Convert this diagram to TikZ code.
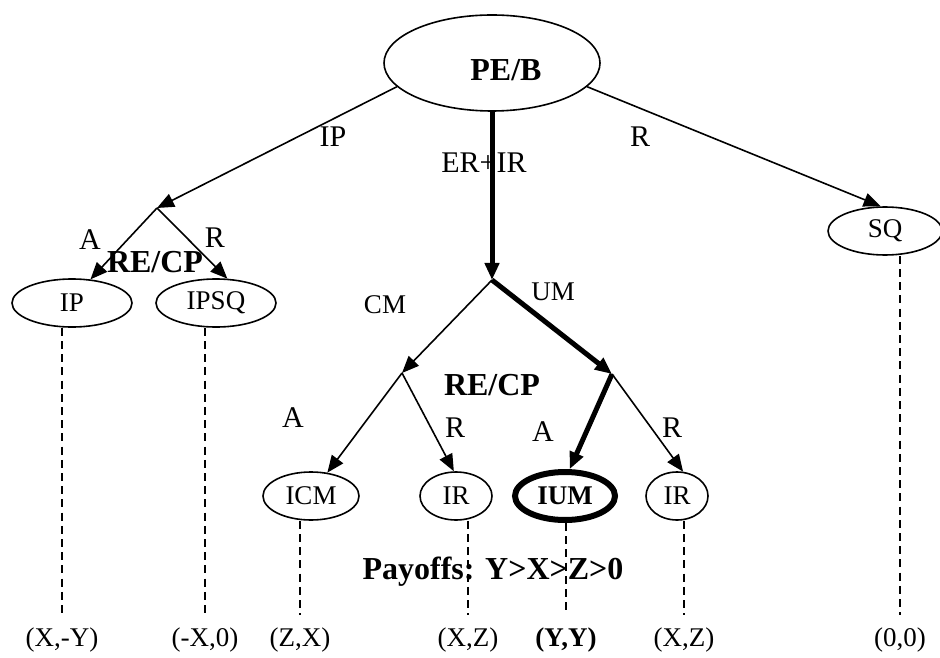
\documentclass[tikz,border=0pt]{standalone}
\usepackage{fontspec}
\setmainfont{Liberation Serif}
\usetikzlibrary{arrows.meta,positioning,shapes.geometric}

\begin{document}
\begin{tikzpicture}[x=0.5pt,y=-0.5pt,
  state/.style={draw, ellipse, line width=0.8pt, inner sep=0pt,
    minimum height=24pt, font=\fontsize{13.5}{15}\selectfont},
  move/.style={-{Triangle[length=8.5pt,width=7pt]}, line width=0.8pt},
  eqmove/.style={move, line width=2.5pt},
  tie/.style={dash pattern=on 4pt off 2.6pt, line width=0.75pt},
  lab/.style={font=\fontsize{15}{17}\selectfont},
  small/.style={font=\fontsize{13.5}{15}\selectfont},
  heavy/.style={font=\fontsize{16}{18}\selectfont\bfseries},
  pay/.style={font=\fontsize{13.5}{15}\selectfont, inner sep=6pt}]
  \useasboundingbox (0,0) rectangle (940,657);

  % players and decision points
  \node[state, minimum width=108pt, minimum height=48pt,
    label={[heavy, xshift=7pt, yshift=-3.5pt]center:PE/B}] (peb) at (492,63) {};
  \coordinate (ch1) at (157,208);
  \coordinate (ch2) at (492,280);
  \coordinate (ch3) at (402,373);
  \coordinate (ch4) at (612,374);

  % outcomes
  \node[state, minimum width=60pt] (ip) at (72,303) {IP};
  \node[state, minimum width=60pt] (ipsq) at (216,303) {IPSQ};
  \node[state, minimum width=57pt] (sq) at (885,231) {SQ};
  \node[state, minimum width=48pt] (icm) at (311,496) {ICM};
  \node[state, minimum width=36pt] (ir1) at (456,496) {IR};
  \node[state, minimum width=50pt, line width=3pt, font=\fontsize{13.5}{15}\selectfont\bfseries]
    (ium) at (565,496) {IUM};
  \node[state, minimum width=31pt] (ir2) at (677,496) {IR};

  % payoffs
  \node[pay] (payip) at (62,640) {(X,-Y)};
  \node[pay] (payipsq) at (205,640) {(-X,0)};
  \node[pay] (payicm) at (300,640) {(Z,X)};
  \node[pay] (payir1) at (468,640) {(X,Z)};
  \node[pay, font=\fontsize{13.5}{15}\selectfont\bfseries] (payium) at (566,640) {(Y,Y)};
  \node[pay] (payir2) at (684,640) {(X,Z)};
  \node[pay] (paysq) at (900,640) {(0,0)};

  % moves
  \draw[move] (peb.194) -- (ch1);
  \draw[eqmove] (peb) -- (ch2);
  \draw[move] (peb.346) -- (sq.100);
  \draw[move] (ch1) -- (ip.52);
  \draw[move] (ch1) -- (ipsq.65);
  \draw[move] (ch2) -- (ch3);
  \draw[eqmove] (ch2) -- (ch4);
  \draw[move] (ch3) -- (icm.55);
  \draw[move] (ch3) -- (ir1.95);
  \draw[eqmove] (ch4) -- (ium.80);
  \draw[move] (ch4) -- (ir2.76);

  % ties to payoffs
  \draw[tie] (payip.north |- ip.south) -- (payip.north);
  \draw[tie] (payipsq.north |- ipsq.south) -- (payipsq.north);
  \draw[tie] (payicm.north |- icm.south) -- (payicm.north);
  \draw[tie] (payir1.north |- ir1.south) -- (payir1.north);
  \draw[tie] (payium.north |- ium.south) -- (payium.north);
  \draw[tie] (payir2.north |- ir2.south) -- (payir2.north);
  \draw[tie] (paysq.north |- sq.south) -- (paysq.north);

  % labels
  \node[lab] (lip) at (333,137) {IP};
  \node[lab] (lerir) at (484,163) {ER+IR};
  \node[lab] (lr) at (640,137) {R};
  \node[lab] (la1) at (90,240) {A};
  \node[lab] (lr1) at (215,238) {R};
  \node[heavy] (recp1) at (155,262) {RE/CP};
  \node[small] (lcm) at (385,305) {CM};
  \node[small] (lum) at (553,292) {UM};
  \node[heavy] (recp2) at (492,385) {RE/CP};
  \node[lab] (la2) at (293,418) {A};
  \node[lab] (lr2) at (455,428) {R};
  \node[lab] (la3) at (543,432) {A};
  \node[lab] (lr3) at (672,428) {R};
  \node[heavy] (key) at (493,572) {Payoffs: Y>X>Z>0};
\end{tikzpicture}
\end{document}
